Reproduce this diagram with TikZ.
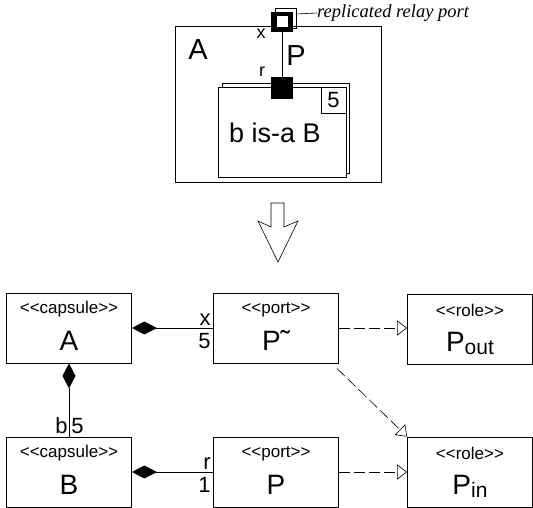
\documentclass[tikz,border=0pt]{standalone}
\usepackage{fontspec}
\setmainfont{Liberation Sans}
\newfontfamily\notefont{Liberation Serif}
\usetikzlibrary{arrows.meta,positioning}

\tikzset{
  umlbox/.style={draw, line width=0.8pt, minimum width=125pt, minimum height=70pt, inner sep=0pt},
  stereo/.style={font=\fontsize{17}{19}\selectfont},
  bigname/.style={font=\fontsize{28}{30}\selectfont, anchor=base},
  mult/.style={font=\fontsize{22}{24}\selectfont, inner sep=2pt},
  small/.style={font=\fontsize{18}{20}\selectfont},
  compose/.style={line width=0.8pt, -{Diamond[length=25pt,width=13pt]}},
  realize/.style={line width=0.6pt, dash pattern=on 11pt off 4pt, -{Triangle[open,length=10pt,width=15pt]}},
}

\begin{document}
\begin{tikzpicture}[x=1pt, y=-1pt]
  \useasboundingbox (0,0) rectangle (533,508);

  % Structure diagram
  \node[draw, line width=0.8pt, minimum width=206pt, minimum height=156pt] (outerA) at (278,104) {};
  \node[font=\fontsize{29}{31}\selectfont] (outerAname) at (198,50) {A};

  % Part b with replication
  \draw[line width=0.6pt] (222,83) rectangle (349,173);
  \node[draw, fill=white, line width=0.6pt, minimum width=128pt, minimum height=90pt, inner sep=0pt] (partB) at (282,132) {};
  \node[draw, line width=0.6pt, minimum width=25pt, minimum height=26pt, inner sep=0pt, anchor=north east, font=\fontsize{22}{24}\selectfont] (partmult) at (partB.north east) {5};
  \node[font=\fontsize{27}{29}\selectfont] (partname) at (275,133) {b is-a B};

  % Ports
  \draw[line width=0.6pt] (275,8) rectangle (296,28);
  \node[fill=black, minimum width=22pt, minimum height=20pt, inner sep=0pt] (relay) at (282,22) {};
  \node[fill=white, minimum size=11pt, inner sep=0pt] (relayhole) at (relay) {};
  \node[fill=black, minimum size=22pt, inner sep=0pt] (portr) at (282,88) {};
  \draw[line width=0.8pt] (relay.south) -- (portr.north);
  \node[small] (xtop) at (261,34) {x};
  \node[font=\fontsize{29}{31}\selectfont] (ptop) at (296,56) {P};
  \node[small] (rtop) at (262,72) {r};

  % Note
  \coordinate (noteend) at (296,14);
  \node[font=\notefont\itshape\fontsize{18.5}{20}\selectfont, anchor=west, inner sep=0pt] (note) at (317,13) {replicated relay port};
  \draw[line width=0.6pt] (noteend) -- (note.west);

  % Transformation arrow
  \draw[line width=0.6pt] (271,203) -- (284,203) -- (284,227) -- (298,221) -- (278,262) -- (258,221) -- (271,227) -- cycle;

  % Class diagram
  \node[umlbox] (capA) at (69,328) {};
  \node[stereo] (capAst) at ([yshift=-17pt]capA.north) {{<}{<}capsule{>}{>}};
  \node[bigname] (capAnm) at ([yshift=-58pt]capA.north) {A};

  \node[umlbox] (capB) at (69,472) {};
  \node[stereo] (capBst) at ([yshift=-17pt]capB.north) {{<}{<}capsule{>}{>}};
  \node[bigname] (capBnm) at ([yshift=-58pt]capB.north) {B};

  \node[umlbox] (portPt) at (276,328) {};
  \node[stereo] (portPtst) at ([yshift=-17pt]portPt.north) {{<}{<}port{>}{>}};
  \node[bigname] (portPtnm) at ([yshift=-58pt]portPt.north) {P˜};

  \node[umlbox] (portP) at (276,472) {};
  \node[stereo] (portPst) at ([yshift=-17pt]portP.north) {{<}{<}port{>}{>}};
  \node[bigname] (portPnm) at ([yshift=-58pt]portP.north) {P};

  \node[umlbox] (roleOut) at (470,329) {};
  \node[stereo] (roleOutst) at ([yshift=-17pt]roleOut.north) {{<}{<}role{>}{>}};
  \node[bigname] (roleOutnm) at ([yshift=-58pt]roleOut.north) {P\raisebox{-3pt}{\fontsize{21}{23}\selectfont out}};

  \node[umlbox] (roleIn) at (470,472) {};
  \node[stereo] (roleInst) at ([yshift=-17pt]roleIn.north) {{<}{<}role{>}{>}};
  \node[bigname] (roleInnm) at ([yshift=-58pt]roleIn.north) {P\raisebox{-3pt}{\fontsize{21}{23}\selectfont in}};

  % Compositions
  \draw[compose] (portPt.west) -- (capA.east)
    node[mult, pos=0, above left] (xlab) {x}
    node[mult, pos=0, below left, yshift=-3pt] (xmult) {5};
  \draw[compose] (capB.north) -- (capA.south)
    node[mult, pos=0, above left, xshift=1pt] (blab) {b}
    node[mult, pos=0, above right] (bmult) {5};
  \draw[compose] (portP.west) -- (capB.east)
    node[mult, pos=0, above left] (rlab) {r}
    node[mult, pos=0, below left, yshift=-3pt] (rmult) {1};

  % Roles
  \draw[realize] (portPt.east) -- (portPt.east -| roleOut.west);
  \draw[realize] ([shift={(-2pt,-5pt)}]portPt.south east) -- (roleIn.north west);
  \draw[realize] (portP.east) -- (roleIn.west);
\end{tikzpicture}
\end{document}
